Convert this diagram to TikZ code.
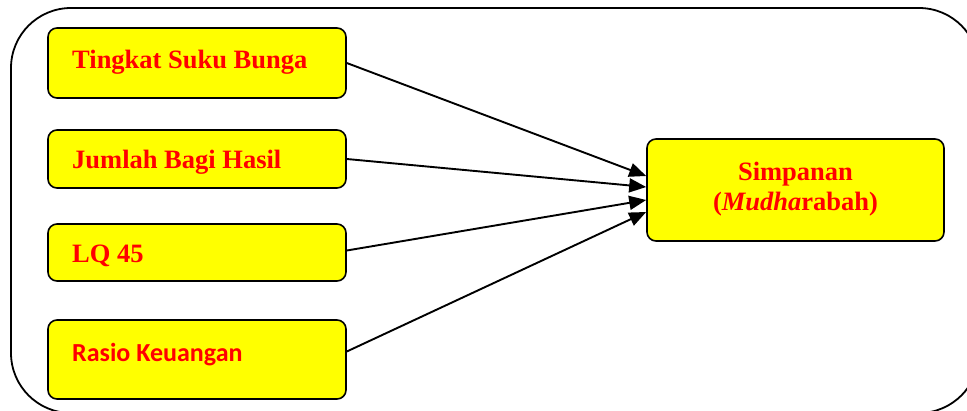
\documentclass[tikz,border=0pt]{standalone}
\usepackage{fontspec}
\setmainfont{Liberation Serif}
\newfontfamily\calib{Carlito}
\usetikzlibrary{arrows.meta}
\definecolor{boxyellow}{RGB}{255,255,0}
\definecolor{txtred}{RGB}{255,0,0}
\tikzset{
  box/.style={draw=black, line width=1.6pt, fill=boxyellow, rounded corners=9pt, minimum width=298pt, inner sep=0pt},
  lbl/.style={anchor=base west, text=txtred, font=\fontsize{26.5}{30}\selectfont\bfseries, inner sep=0pt},
  conn/.style={line width=1.9pt, -{Triangle[length=17pt,width=14pt]}}
}
\begin{document}
\begin{tikzpicture}[x=1pt,y=-1pt]
\useasboundingbox (0,0) rectangle (967,410);
\draw[line width=1.8pt, rounded corners=60pt] (11,8) rectangle (979,413);
\node[box, minimum height=70pt] (b1) at (197,63) {};
\node[box, minimum height=58pt] (b2) at (197,159) {};
\node[box, minimum height=57pt] (b3) at (197,252.5) {};
\node[box, minimum height=79pt] (b4) at (197,359.5) {};
\node[box, minimum width=297pt, minimum height=102pt] (tg) at (795.5,190) {};
\node[lbl] (t1) at (72,68) {Tingkat Suku Bunga};
\node[lbl] (t2) at (72,168) {Jumlah Bagi Hasil};
\node[lbl] (t3) at (72,262) {LQ 45};
\node[lbl, font=\fontsize{26}{30}\calib\bfseries] (t4) at (72,361) {Rasio Keuangan};
\node[text=txtred, font=\fontsize{26.5}{30}\selectfont\bfseries, align=center, inner sep=0pt] (tt) at (795.5,189) {Simpanan\\(\textit{Mudha}rabah)};
\draw[conn] (b1.east) -- ([yshift=14pt]tg.west);
\draw[conn] (b2.east) -- ([yshift=3pt]tg.west);
\draw[conn] ([yshift=2pt]b3.east) -- ([yshift=-10pt]tg.west);
\draw[conn] ([yshift=8pt]b4.east) -- ([yshift=-22pt]tg.west);
\end{tikzpicture}
\end{document}
